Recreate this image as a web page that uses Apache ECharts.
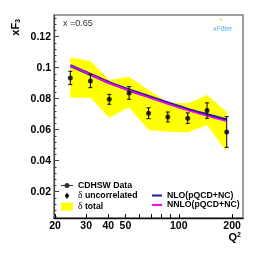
<!DOCTYPE html>
<html><head><meta charset="utf-8">
<script src="https://cdn.jsdelivr.net/npm/echarts@6/dist/echarts.min.js"></script>
<style>html,body{margin:0;padding:0;background:#fff}#c{width:266px;height:253px}</style>
</head><body><div id="c"></div>
<script>
// ---- data ----
const q2 = [24.4, 31.7, 40.5, 52.4, 67.5, 86.7, 112.4, 144.5, 186.6];
const xf3 = [0.0934, 0.0914, 0.0796, 0.0837, 0.0706, 0.0682, 0.0674, 0.0723, 0.0585];
const errUncorr = [0.0043, 0.0043, 0.0032, 0.0041, 0.0035, 0.0032, 0.0034, 0.0050, 0.0099];
const totalUp = [0.1065, 0.1043, 0.0921, 0.0942, 0.0856, 0.0777, 0.0769, 0.0824, 0.0714];
const totalLo = [0.0806, 0.0806, 0.0677, 0.0745, 0.0598, 0.0587, 0.0581, 0.0630, 0.0458];
const nlo  = [0.1013, 0.0957, 0.0903, 0.0856, 0.0814, 0.0772, 0.0731, 0.0697, 0.0663];
const nnlo = [0.1013, 0.0956, 0.0901, 0.0853, 0.0810, 0.0767, 0.0725, 0.0689, 0.0654];
const xTickLabels = [20, 30, 40, 50, 100, 200];
const xTicks = [20, 30, 40, 50, 60, 70, 80, 90, 100, 200];
const yTickLabels = [0.02, 0.04, 0.06, 0.08, 0.1, 0.12];
const yMinorTicks = [0.004, 0.008, 0.012, 0.016, 0.024, 0.028, 0.032, 0.036, 0.044, 0.048, 0.052, 0.056,
  0.064, 0.068, 0.072, 0.076, 0.084, 0.088, 0.092, 0.096, 0.104, 0.108, 0.112, 0.116, 0.124, 0.128, 0.132];
const kinematics = 'x =0.65';

// ---- chart ----
const X_MIN = 19.74, X_MAX = 230.6, Y_MIN = 0.003, Y_MAX = 0.134;
const FONT = '"Liberation Sans", Arial, sans-serif';
const chart = echarts.init(document.getElementById('c'), null, {renderer: 'canvas'});

const legendText = {
  fontFamily: FONT, fontWeight: 'bold', fontSize: 8.7, color: '#000', lineHeight: 9,
  rich: { d: { fontFamily: '"Liberation Serif", serif', fontWeight: 'normal', fontSize: 9.5, color: '#000', lineHeight: 9 } }
};
const legendFmt = n => n.charAt(0) === 'δ' ? '{d|δ}' + n.slice(1) : n;

const option = {
  animation: false,
  backgroundColor: '#fff',
  grid: { left: 54, right: 23, top: 15, bottom: 35, containLabel: false, outerBoundsMode: 'none',
          show: true, borderColor: '#808080', borderWidth: 1.5, backgroundColor: 'transparent' },
  title: { text: kinematics, left: 63, top: 19, padding: 0,
           textStyle: { fontFamily: FONT, fontWeight: 'normal', fontSize: 9, color: '#333' } },
  legend: [
    { orient: 'vertical', left: 61, top: 181, padding: 0, itemWidth: 12, itemHeight: 8, itemGap: 0.8,
      selectedMode: false, textStyle: legendText, formatter: legendFmt,
      data: [
        { name: 'CDHSW Data', icon: 'path://M0,0M12,8M0,3.5H12V4.5H0ZM3.5,4A2.5,2.5,0,1,1,8.5,4A2.5,2.5,0,1,1,3.5,4Z', itemStyle: { color: '#000', borderWidth: 0 } },
        { name: 'δ uncorrelated', icon: 'path://M0,0M12,8M5.5,1H6.5V7H5.5ZM4,4A2,2,0,1,1,8,4A2,2,0,1,1,4,4Z', itemStyle: { color: '#000', borderWidth: 0 } },
        { name: 'δ total', icon: 'rect', itemStyle: { color: '#ffff00', borderWidth: 0 } }
      ] },
    { orient: 'vertical', left: 152, top: 191, padding: 0, itemWidth: 10, itemHeight: 8, itemGap: 0.4,
      selectedMode: false, textStyle: legendText,
      data: [
        { name: 'NLO(pQCD+NC)', icon: 'path://M0,0M10,8M0,3H10V5H0Z', itemStyle: { color: '#1c1c9e', borderWidth: 0 } },
        { name: 'NNLO(pQCD+NC)', icon: 'path://M0,0M10,8M0,3H10V5H0Z', itemStyle: { color: '#ff00ff', borderWidth: 0 } }
      ] }
  ],
  xAxis: [
    { type: 'log', logBase: 10, min: X_MIN, max: X_MAX, position: 'top', show: false },
    { type: 'value', min: Math.log10(X_MIN), max: Math.log10(X_MAX), position: 'bottom',
      axisLine: { show: true, lineStyle: { color: '#111', width: 1.3 } },
      axisTick: { show: true, inside: true, length: 4, customValues: xTicks.map(Math.log10), lineStyle: { color: '#111', width: 1 } },
      axisLabel: { show: true, customValues: xTickLabels.map(Math.log10), margin: 3,
        formatter: v => String(Math.round(Math.pow(10, v))),
        fontFamily: FONT, fontWeight: 'bold', fontSize: 10.5, color: '#000' },
      splitLine: { show: false } }
  ],
  yAxis: [
    { type: 'value', min: Y_MIN, max: Y_MAX, position: 'left',
      axisLine: { show: true, lineStyle: { color: '#444', width: 1.2 } },
      axisTick: { show: true, inside: true, length: 5, customValues: yTickLabels, lineStyle: { color: '#444', width: 1 } },
      axisLabel: { show: true, customValues: yTickLabels, margin: 3,
        formatter: v => String(+v.toFixed(2)),
        fontFamily: FONT, fontWeight: 'bold', fontSize: 10.5, color: '#000' },
      splitLine: { show: false } },
    { type: 'value', min: Y_MIN, max: Y_MAX, position: 'right', offset: -189,
      axisLine: { show: false },
      axisTick: { show: true, inside: false, length: 2.5, customValues: yMinorTicks, lineStyle: { color: '#444', width: 1 } },
      axisLabel: { show: false }, splitLine: { show: false } }
  ],
  graphic: [
    { type: 'text', x: 16, y: 19, rotation: Math.PI / 2,
      style: { text: 'xF{s|3}', align: 'right', verticalAlign: 'middle', fill: '#000',
        font: 'bold 11px ' + FONT,
        rich: { s: { fontSize: 7, fontWeight: 'bold', fontFamily: FONT, padding: [5, 0, 0, 0] } } } },
    { type: 'text', x: 241, y: 238,
      style: { text: 'Q{s|2}', align: 'right', verticalAlign: 'middle', fill: '#000',
        font: 'bold 11px ' + FONT,
        rich: { s: { fontSize: 7, fontWeight: 'bold', fontFamily: FONT, padding: [0, 0, 6, 0] } } } },
    { type: 'text', x: 213, y: 29,
      style: { text: 'xFitter', align: 'left', verticalAlign: 'middle', fill: '#5aaee6',
        font: 'italic 7px ' + FONT } },
    { type: 'text', x: 221, y: 21,
      style: { text: '*', align: 'center', verticalAlign: 'middle', fill: '#e8d040', font: 'bold 8px ' + FONT } }
  ],
  series: [
    { name: 'δ total', type: 'custom', xAxisIndex: 0, yAxisIndex: 0, z: 1,
      data: q2.map((q, i) => [q, totalLo[i], totalUp[i]]),
      encode: { x: 0, y: [1, 2] },
      renderItem: (params, api) => {
        if (params.dataIndex !== 0) return null;
        const pts = [];
        for (let i = 0; i < q2.length; i++) pts.push(api.coord([q2[i], totalUp[i]]));
        for (let i = q2.length - 1; i >= 0; i--) pts.push(api.coord([q2[i], totalLo[i]]));
        return { type: 'polygon', shape: { points: pts }, style: { fill: '#ffff00' } };
      } },
    { name: 'NLO(pQCD+NC)', type: 'line', xAxisIndex: 0, yAxisIndex: 0, z: 3,
      data: q2.map((q, i) => [q, nlo[i]]), smooth: 0.3, symbol: 'none', showSymbol: false,
      lineStyle: { color: '#1c1c9e', width: 3 }, itemStyle: { color: '#1c1c9e' } },
    { name: 'NNLO(pQCD+NC)', type: 'line', xAxisIndex: 0, yAxisIndex: 0, z: 4,
      data: q2.map((q, i) => [q, nnlo[i]]), smooth: 0.3, symbol: 'none', showSymbol: false,
      lineStyle: { color: '#ff00ff', width: 1.5 }, itemStyle: { color: '#ff00ff' } },
    { name: 'δ uncorrelated', type: 'custom', xAxisIndex: 0, yAxisIndex: 0, z: 5,
      data: q2.map((q, i) => [q, xf3[i], errUncorr[i]]),
      encode: { x: 0, y: 1 },
      renderItem: (params, api) => {
        const x = api.value(0), y = api.value(1), e = api.value(2);
        const t = api.coord([x, y + e]), b = api.coord([x, y - e]);
        const w = 2, st = { stroke: '#000', lineWidth: 1 };
        return { type: 'group', children: [
          { type: 'line', shape: { x1: t[0], y1: t[1], x2: b[0], y2: b[1] }, style: st },
          { type: 'line', shape: { x1: t[0] - w, y1: t[1], x2: t[0] + w, y2: t[1] }, style: st },
          { type: 'line', shape: { x1: b[0] - w, y1: b[1], x2: b[0] + w, y2: b[1] }, style: st }
        ] };
      } },
    { name: 'CDHSW Data', type: 'scatter', xAxisIndex: 0, yAxisIndex: 0, z: 6,
      data: q2.map((q, i) => [q, xf3[i]]), symbol: 'circle', symbolSize: 5,
      itemStyle: { color: '#000' } }
  ]
};
chart.setOption(option);
</script>
</body></html>
